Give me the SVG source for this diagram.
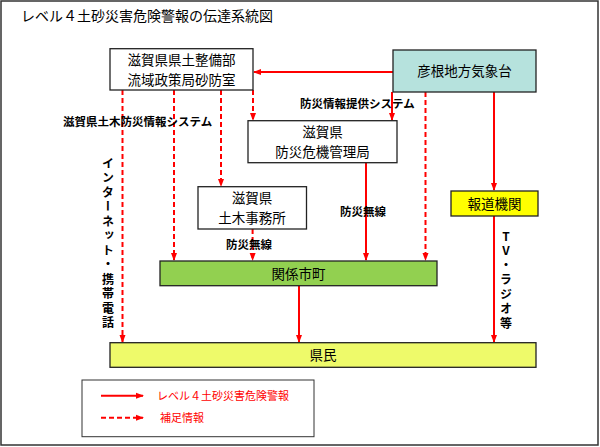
<svg xmlns="http://www.w3.org/2000/svg" width="600" height="447" viewBox="0 0 600 447">
<defs>
<marker id="ah" markerWidth="8" markerHeight="8" refX="7" refY="4" orient="auto" markerUnits="userSpaceOnUse"><path d="M0,1 L8,4 L0,7 Z" fill="#ff0000"/></marker>
<style>
text{font-family:"Noto Sans CJK JP","Liberation Sans",sans-serif;fill:#000}
.box{stroke:#222;stroke-width:1.3}
.n{font-size:13.5px;text-anchor:middle}
.lb{font-size:11.5px;font-weight:bold}
.s{stroke:#ff0000;stroke-width:2;fill:none;marker-end:url(#ah)}
.d{stroke:#ff0000;stroke-width:2;fill:none;stroke-dasharray:5,3;marker-end:url(#ah)}
.v{font-size:12px;font-weight:bold;writing-mode:vertical-rl;text-orientation:upright;letter-spacing:2.5px}
</style>
</defs>
<rect x="1" y="1" width="597" height="444" fill="#fff" stroke="#333" stroke-width="1.5"/>
<text x="21" y="21" font-size="14">レベル４土砂災害危険警報の伝達系統図</text>
<g id="connectors">
<path class="s" d="M393,72 H254"/>
<path class="d" d="M122.5,90 V342"/>
<path class="d" d="M174,90 V260"/>
<path class="d" d="M221,90 V186"/>
<path class="d" d="M253,90 V120"/>
<path class="s" d="M392,92 V120"/>
<path class="d" d="M425.5,92 V260"/>
<path class="s" d="M494,92 V190"/>
<path class="s" d="M366,163 V260"/>
<path class="d" d="M252.6,229 V260"/>
<path class="s" d="M299,286 V342"/>
<path class="s" d="M494,216 V342"/>
</g>
<text class="lb" x="63" y="126">滋賀県土木防災情報システム</text>
<text class="lb" x="300" y="108">防災情報提供システム</text>
<text class="lb" x="340" y="216">防災無線</text>
<text class="lb" x="226" y="249">防災無線</text>
<text class="v" x="108" y="157">インターネット・携帯電話</text>
<text class="v" x="506" y="230">TV・ラジオ等</text>
<g id="sabo"><rect class="box" x="110" y="48.7" width="143" height="41.3" fill="#fff"/><text class="n" x="181.5" y="65">滋賀県県土整備部</text><text class="n" x="181.5" y="85">流域政策局砂防室</text></g>
<g id="hikone"><rect class="box" x="393" y="50" width="143" height="42" fill="#b6e2dd"/><text class="n" x="464.5" y="76">彦根地方気象台</text></g>
<g id="bousai"><rect class="box" x="248" y="120.7" width="149" height="42" fill="#fff"/><text class="n" x="322.5" y="137">滋賀県</text><text class="n" x="322.5" y="157">防災危機管理局</text></g>
<g id="doboku"><rect class="box" x="198" y="186.7" width="108.5" height="42.3" fill="#fff"/><text class="n" x="252" y="203">滋賀県</text><text class="n" x="252" y="223">土木事務所</text></g>
<g id="houdou"><rect class="box" x="451" y="191" width="87" height="25" fill="#ffff00"/><text class="n" x="494.5" y="208.5">報道機関</text></g>
<g id="shichou"><rect class="box" x="160" y="261" width="277" height="24.7" fill="#92d050"/><text class="n" x="298.5" y="278.5">関係市町</text></g>
<g id="kenmin"><rect class="box" x="110" y="342.7" width="426" height="24.6" fill="#eefa6a"/><text class="n" x="323" y="360">県民</text></g>
<g id="legend">
<rect x="82" y="380" width="232" height="56.7" fill="#fff" stroke="#333" stroke-width="1"/>
<path class="s" d="M101,395.7 H143"/>
<path class="d" d="M101,417.7 H143"/>
<text x="157" y="400" font-size="11" style="fill:#ff0000">レベル４土砂災害危険警報</text>
<text x="160" y="422" font-size="11" style="fill:#ff0000">補足情報</text>
</g>
</svg>
